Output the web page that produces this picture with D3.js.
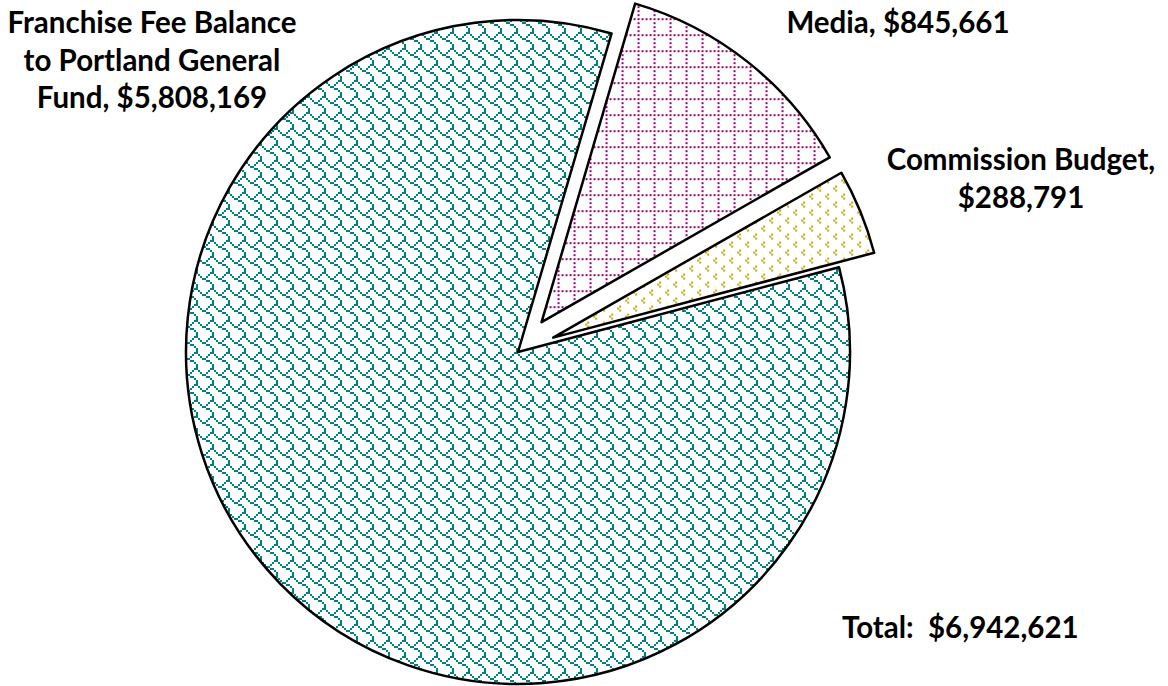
<!DOCTYPE html>
<html>
<head>
<meta charset="utf-8">
<script src="https://cdn.jsdelivr.net/npm/d3@7"></script>
<style>
  html, body { margin: 0; padding: 0; background: #fff; }
  svg { display: block; }
  .lbl { font-family: Lato, "Open Sans", sans-serif; font-weight: bold; font-size: 29.5px; fill: #000; }
</style>
</head>
<body>
<svg id="chart"></svg>
<script>
// data
const categories = ["Franchise Fee Balance to Portland General Fund", "Media", "Commission Budget"];
const values = [5808169, 845661, 288791];
const exploded = [false, true, true];
const labelLines = [
  ["Franchise Fee Balance", "to Portland General", "Fund, $5,808,169"],
  ["Media, $845,661"],
  ["Commission Budget,", "$288,791"]
];
const totalLabel = "Total:  $6,942,621";

const width = 1168, height = 686;
const cx = 518, cy = 352, radius = 332;
const explode = 38;

const svg = d3.select('#chart').attr('width', width).attr('height', height);
const defs = svg.append('defs');

// 8x8 bitmaps drawn at 2px per bit, like the office fill patterns
function bitPattern(id, rows, color) {
  const p = defs.append('pattern')
    .attr('id', id)
    .attr('patternUnits', 'userSpaceOnUse')
    .attr('width', 16).attr('height', 16);
  p.append('rect').attr('width', 16).attr('height', 16).attr('fill', '#fff');
  rows.forEach((row, y) => {
    row.split('').forEach((c, x) => {
      if (c === '#') {
        p.append('rect')
          .attr('x', x * 2).attr('y', y * 2)
          .attr('width', 2).attr('height', 2)
          .attr('fill', color)
          .attr('shape-rendering', 'crispEdges');
      }
    });
  });
}

// shingle
bitPattern('wave', [
  '......##',
  '#....#..',
  '.#..#...',
  '..##....',
  '....##..',
  '......#.',
  '.......#',
  '.......#'
], '#008080');

bitPattern('grid', [
  '#.#.#.#.',
  '........',
  '#.......',
  '........',
  '#.......',
  '........',
  '#.......',
  '........'
], '#a50070');

bitPattern('chev', [
  '.#......',
  '#.......',
  '.#......',
  '........',
  '.....#..',
  '....#...',
  '.....#..',
  '........'
], '#d4a500');

const fills = ['url(#wave)', 'url(#grid)', 'url(#chev)'];

const startA = 75.2 * Math.PI / 180;
const pie = d3.pie().sort(null).startAngle(startA).endAngle(startA + 2 * Math.PI);
const arc = d3.arc().innerRadius(0).outerRadius(radius);
const arcs = pie(values);

const g = svg.append('g').attr('transform', `translate(${cx},${cy})`);

g.selectAll('path.slice')
  .data(arcs)
  .enter()
  .append('path')
  .attr('class', 'slice')
  .attr('d', arc)
  .attr('transform', (d, i) => {
    if (!exploded[i]) return null;
    const mid = (d.startAngle + d.endAngle) / 2;
    return `translate(${Math.sin(mid) * explode},${-Math.cos(mid) * explode})`;
  })
  .attr('fill', (d, i) => fills[i])
  .attr('stroke', '#000')
  .attr('stroke-width', 2.5)
  .attr('stroke-linejoin', 'round');

// data labels
const labelPos = [[152, 33], [898, 33], [1021, 170]];
const lineH = 37.5;

labelLines.forEach((lines, i) => {
  const t = svg.append('text')
    .attr('class', 'lbl')
    .attr('text-anchor', 'middle')
    .attr('x', labelPos[i][0])
    .attr('y', labelPos[i][1]);
  lines.forEach((s, k) => {
    t.append('tspan')
      .attr('x', labelPos[i][0])
      .attr('dy', k === 0 ? 0 : lineH)
      .text(s);
  });
});

svg.append('text')
  .attr('class', 'lbl')
  .attr('x', 842)
  .attr('y', 638)
  .attr('xml:space', 'preserve')
  .style('white-space', 'pre')
  .text(totalLabel);
</script>
</body>
</html>
